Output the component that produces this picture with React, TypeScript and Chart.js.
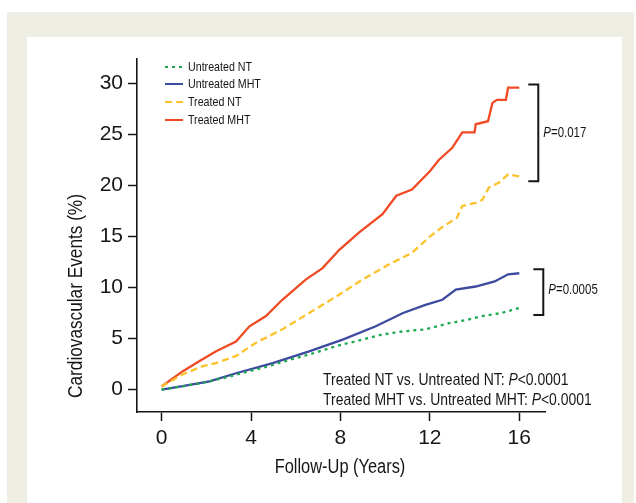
import React, { useEffect, useRef } from "react";
import { Chart, registerables } from "chart.js";

Chart.register(...registerables);

const FF = '"Liberation Sans", Arial, Helvetica, sans-serif';
const SX = 0.82;

const seriesNames = ["Untreated NT", "Untreated MHT", "Treated NT", "Treated MHT"];
const seriesColors = ["#1ea84f", "#3c4aa0", "#fbc22a", "#f04a24"];
const xTickValues = [0, 4, 8, 12, 16];
const yTickValues = [0, 5, 10, 15, 20, 25, 30];
const xAxisTitle = "Follow-Up (Years)";
const yAxisTitle = "Cardiovascular Events (%)";
const pTopLabel = "=0.017";
const pBottomLabel = "=0.0005";
const compareLines = [
  ["Treated NT vs. Untreated NT: ", "<0.0001"],
  ["Treated MHT vs. Untreated MHT: ", "<0.0001"],
];

const untreatedNtYears = [0, 0.6, 1.85, 2.9, 3.93, 4.8, 5.7, 6.7, 7.8, 8.8, 9.88, 10.8, 11.8, 12.86, 13.6, 14.35, 15.2, 16.0];
const untreatedNtValues = [0, 0.2, 0.65, 1.2, 1.8, 2.3, 2.9, 3.5, 4.25, 4.8, 5.4, 5.7, 5.9, 6.5, 6.8, 7.2, 7.5, 8.0];

const untreatedMhtYears = [0, 1.0, 2.14, 3.33, 4.97, 6.6, 8.1, 9.58, 10.8, 11.8, 12.56, 13.16, 14.05, 14.9, 15.5, 16.0];
const untreatedMhtValues = [0, 0.35, 0.8, 1.6, 2.6, 3.75, 4.9, 6.2, 7.5, 8.3, 8.8, 9.8, 10.1, 10.6, 11.3, 11.4];

const treatedNtYears = [0, 0.95, 1.85, 2.44, 3.33, 4.23, 5.4, 6.6, 7.8, 9.0, 10.2, 11.2, 12.0, 12.6, 13.2, 13.45, 14.05, 14.35, 14.64, 15.1, 15.5, 16.0];
const treatedNtValues = [0.3, 1.5, 2.3, 2.6, 3.3, 4.6, 5.9, 7.5, 9.1, 10.8, 12.3, 13.4, 15.0, 16.0, 16.8, 18.0, 18.3, 18.6, 19.8, 20.3, 21.1, 20.9];

const treatedMhtYears = [0, 0.95, 1.7, 2.44, 3.33, 3.93, 4.67, 5.4, 6.46, 7.2, 7.95, 8.84, 9.88, 10.5, 11.2, 12.0, 12.4, 13.0, 13.45, 14.0, 14.05, 14.6, 14.8, 15.0, 15.4, 15.5, 16.0];
const treatedMhtValues = [0.3, 1.8, 2.8, 3.75, 4.7, 6.2, 7.2, 8.8, 10.8, 11.9, 13.7, 15.4, 17.2, 19.0, 19.6, 21.4, 22.5, 23.7, 25.2, 25.2, 26.0, 26.3, 28.1, 28.4, 28.4, 29.6, 29.6];

const seriesYears = [untreatedNtYears, untreatedMhtYears, treatedNtYears, treatedMhtYears];
const seriesValues = [untreatedNtValues, untreatedMhtValues, treatedNtValues, treatedMhtValues];
const seriesDash: number[][] = [[3, 4], [], [7, 4], []];

// draws condensed text (horizontal scale SX) with optional italic parts
function drawRich(
  ctx: CanvasRenderingContext2D,
  x: number,
  y: number,
  parts: [string, boolean][],
  size: number,
  align: "left" | "center" = "left",
  rotate = 0
) {
  ctx.save();
  ctx.translate(x, y);
  if (rotate) ctx.rotate(rotate);
  ctx.scale(SX, 1);
  ctx.textAlign = "left";
  ctx.textBaseline = "middle";
  let total = 0;
  for (const [t, italic] of parts) {
    ctx.font = `${italic ? "italic " : ""}${size}px ${FF}`;
    total += ctx.measureText(t).width;
  }
  let cx = align === "center" ? -total / 2 : 0;
  for (const [t, italic] of parts) {
    ctx.font = `${italic ? "italic " : ""}${size}px ${FF}`;
    ctx.fillText(t, cx, 0);
    cx += ctx.measureText(t).width;
  }
  ctx.restore();
}

const decorPlugin = {
  id: "decor",
  beforeDraw(chart: any) {
    const ctx = chart.ctx as CanvasRenderingContext2D;
    ctx.save();
    ctx.fillStyle = "#ffffff";
    ctx.fillRect(0, 0, chart.width, chart.height);
    ctx.fillStyle = "#efeee4";
    ctx.fillRect(7, 12, 627, chart.height - 12);
    ctx.fillStyle = "#ffffff";
    ctx.fillRect(27, 37, 595, chart.height - 37);
    ctx.restore();
  },
  afterDraw(chart: any) {
    const ctx = chart.ctx as CanvasRenderingContext2D;
    const xs = chart.scales.x;
    const ys = chart.scales.y;
    ctx.save();
    ctx.fillStyle = "#161616";

    // axis titles
    drawRich(ctx, (chart.chartArea.left + chart.chartArea.right) / 2 - 1, 467, [[xAxisTitle, false]], 20, "center");
    drawRich(ctx, 76, 296, [[yAxisTitle, false]], 21, "center", -Math.PI / 2);

    // legend
    const legendY = [67, 84, 102, 120];
    seriesNames.forEach((name, i) => {
      ctx.strokeStyle = seriesColors[i];
      ctx.lineWidth = 2;
      ctx.setLineDash(seriesDash[i]);
      ctx.beginPath();
      ctx.moveTo(165, legendY[i]);
      ctx.lineTo(183, legendY[i]);
      ctx.stroke();
      ctx.setLineDash([]);
      ctx.fillStyle = "#161616";
      drawRich(ctx, 188, legendY[i], [[name, false]], 13);
    });

    // comparison annotations
    compareLines.forEach((ln, i) => {
      drawRich(ctx, 323, 380 + i * 20, [[ln[0], false], ["P", true], [ln[1], false]], 17);
    });

    // brackets
    const lastX = xs.getPixelForValue(16);
    const endOf = (arr: number[]) => ys.getPixelForValue(arr[arr.length - 1]);
    ctx.strokeStyle = "#161616";
    ctx.lineWidth = 2;
    const bracket = (x0: number, x1: number, top: number, bottom: number) => {
      ctx.beginPath();
      ctx.moveTo(x0, top);
      ctx.lineTo(x1, top);
      ctx.lineTo(x1, bottom);
      ctx.lineTo(x0, bottom);
      ctx.stroke();
    };
    const t1 = endOf(treatedMhtValues) - 3;
    const b1 = endOf(treatedNtValues) + 5;
    bracket(lastX + 9, lastX + 19, t1, b1);
    drawRich(ctx, lastX + 24, (t1 + b1) / 2, [["P", true], [pTopLabel, false]], 14);
    const t2 = endOf(untreatedMhtValues) - 4;
    const b2 = endOf(untreatedNtValues) + 7;
    bracket(lastX + 14, lastX + 24, t2, b2);
    drawRich(ctx, lastX + 29, (t2 + b2) / 2 - 2, [["P", true], [pBottomLabel, false]], 14);
    ctx.restore();
  },
};

export default function App() {
  const ref = useRef<HTMLCanvasElement>(null);
  useEffect(() => {
    const datasets = seriesNames.map((name, i) => ({
      label: name,
      data: seriesYears[i].map((x, j) => ({ x, y: seriesValues[i][j] })),
      borderColor: seriesColors[i],
      backgroundColor: seriesColors[i],
      borderWidth: 2.3,
      borderDash: seriesDash[i],
      pointRadius: 0,
      tension: 0,
      fill: false,
    }));
    const axisCommon = {
      grid: {
        display: true,
        drawOnChartArea: false,
        drawTicks: true,
        tickLength: 9,
        tickWidth: 1.5,
        tickColor: "#161616",
      },
      border: { display: true, color: "#161616", width: 1.6 },
    };
    const chart = new Chart(ref.current!, {
      type: "line",
      data: { datasets },
      plugins: [decorPlugin],
      options: {
        animation: false,
        responsive: false,
        layout: { padding: { left: 0, top: 59, right: 91, bottom: 0 } },
        plugins: { legend: { display: false }, tooltip: { enabled: false } },
        scales: {
          x: {
            type: "linear",
            min: -1.1,
            max: 17.15,
            ...axisCommon,
            afterBuildTicks: (s: any) => {
              s.ticks = xTickValues.map((v) => ({ value: v }));
            },
            afterFit: (s: any) => {
              s.height = 91;
            },
            ticks: {
              color: "#161616",
              font: { family: FF, size: 21 },
              padding: 5,
              maxRotation: 0,
              autoSkip: false,
            },
          },
          y: {
            type: "linear",
            min: -2.2,
            max: 32.4,
            ...axisCommon,
            afterBuildTicks: (s: any) => {
              s.ticks = yTickValues.map((v) => ({ value: v }));
            },
            afterFit: (s: any) => {
              s.width = 137;
            },
            ticks: {
              color: "#161616",
              font: { family: FF, size: 21 },
              padding: 5,
              autoSkip: false,
            },
          },
        },
      } as any,
    });
    return () => chart.destroy();
  }, []);
  return (
    <div style={{ position: "fixed", left: 0, top: 0, width: 636, height: 503 }}>
      <canvas ref={ref} width={636} height={503} style={{ display: "block", width: 636, height: 503 }} />
    </div>
  );
}
